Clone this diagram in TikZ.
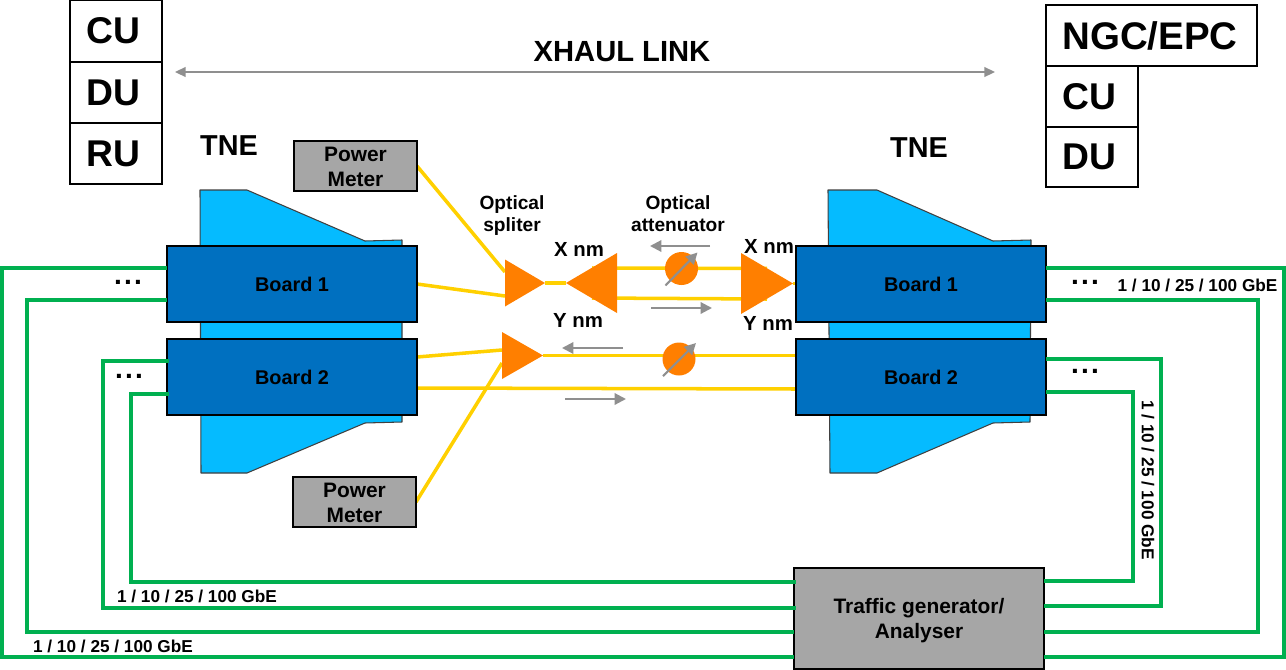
\documentclass[tikz,border=0pt]{standalone}
\usepackage{fontspec}
\setmainfont{Liberation Sans}
\usetikzlibrary{shapes.geometric,arrows.meta}
\definecolor{tneblue}{HTML}{05BBFF}
\definecolor{boardblue}{HTML}{0070C0}
\definecolor{boxgray}{HTML}{A6A6A6}
\definecolor{arrowgray}{HTML}{8F8F8F}
\definecolor{ornge}{HTML}{FF7F00}
\definecolor{fibre}{HTML}{FFD000}
\definecolor{link}{HTML}{00B050}
\newcommand\fz[2]{\fontsize{#1pt}{#2pt}\selectfont\bfseries}
\newcommand\threedots{.\kern1.3pt.\kern1.3pt.}
\pgfdeclarelayer{bg}
\pgfsetlayers{bg,main}
\tikzset{
  x=0.02cm,y=-0.02cm,
  sq/.style 2 args={draw=black,line width=1.6pt,inner sep=0pt,outer sep=0pt,minimum width=#1*0.02cm,minimum height=#2*0.02cm},
  cell/.style 2 args={sq={#1}{#2},fill=white,font=\fz{21.2}{25}},
  board/.style={sq={250}{76},fill=boardblue,font=\fz{11.3}{14}},
  graybox/.style 2 args={sq={#1}{#2},fill=boxgray,align=center,font=\fz{11.9}{14.2}},
  lbl/.style={inner sep=0pt,outer sep=0pt,align=center,font=\fz{10.9}{12.6}},
  nm/.style={inner sep=0pt,outer sep=0pt,font=\fz{11.6}{14}},
  rate/.style={inner sep=0pt,outer sep=0pt,font=\fz{9.8}{12}},
  dots/.style={inner sep=0pt,outer sep=0pt,font=\fz{16}{18}},
  tri/.style 2 args={isosceles triangle,isosceles triangle stretches,fill=ornge,inner sep=0pt,outer sep=0pt,minimum height=#1*0.02cm,minimum width=#2*0.02cm},
  att/.style={circle,fill=ornge,inner sep=0pt,outer sep=0pt,minimum size=33*0.02cm},
  tne/.style={fill=tneblue,draw=black!75,line width=0.6pt,line join=round},
  fib/.style={draw=fibre,line width=2pt},
  lnk/.style={draw=link,line width=1.8pt,line join=miter},
  dir/.style={draw=arrowgray,line width=1.2pt,-{Triangle[length=6.5pt,width=6.5pt]}},
  span/.style={draw=arrowgray,line width=1pt,{Triangle[length=6pt,width=5.5pt]}-{Triangle[length=6pt,width=5.5pt]}}
}
\begin{document}
\begin{tikzpicture}
\useasboundingbox (0,0) rectangle (1286,670);
\foreach \v in {268,272,296,300,350,357,359,361,363,388,389,392,394,581,582,606,608,632,657}
  \coordinate (y\v) at (0,\v);

% top-left stack
\node[cell={92}{62}] (cuL) at (116,31) {CU\kern3.4pt};
\node[cell={92}{61}] (duL) at (116,92.5) {DU\kern3.4pt};
\node[cell={92}{61}] (ruL) at (116,153.5) {RU\kern3.4pt};
% top-right stack
\node[cell={211}{61},font=\fz{21.9}{25}] (ngc) at (1151.5,35.5) {NGC/EPC\kern1.7pt};
\node[cell={92}{61}] (cuR) at (1092,96.5) {CU\kern3.4pt};
\node[cell={92}{60}] (duR) at (1092,157) {DU\kern3.4pt};

\node[inner sep=0pt,font=\fz{16.6}{20}] (xhaul) at (622,52) {XHAUL LINK};
\coordinate (xa) at (175,72);
\coordinate (xb) at (995,72);
\draw[span] (xa) -- (xb);

\node[inner sep=0pt,font=\fz{16.4}{20}] (tneL) at (229,146) {TNE};
\node[inner sep=0pt,font=\fz{16.4}{20}] (tneR) at (919,148) {TNE};

% boards and boxes
\node[board] (b1l) at (292,284) {Board 1};
\node[board] (b2l) at (292,377) {Board 2};
\node[board] (b1r) at (921,284) {Board 1};
\node[board] (b2r) at (921,377) {Board 2};
\node[graybox={123}{50}] (pm1) at (355.5,166) {\rule{0pt}{9.7pt}Power\\Meter};
\node[graybox={123}{50}] (pm2) at (354.5,502) {\rule{0pt}{9.7pt}Power\\Meter};
\node[graybox={250}{101}] (tg) at (919,618.5) {\rule{0pt}{10.8pt}Traffic generator/\\Analyser};

% optical parts
\node[tri={40}{47},anchor=apex] (s1) at (545,283) {};
\node[tri={41}{47},anchor=apex] (s2) at (543,355.5) {};
\node[tri={51}{60},anchor=apex,shape border rotate=180] (t1) at (566,283) {};
\node[tri={52}{61},anchor=apex] (t2) at (793,283.5) {};
\node[att] (a1) at (681.5,268.5) {};
\node[att] (a2) at (679,359) {};

\begin{pgfonlayer}{bg}
  \draw[tne] (200,190) -- (247,190) -- (365,241) -- (402,240) -- (402,422) -- (365,423) -- (247,473) -- (201,473) -- cycle;
  \draw[tne] (828,190) -- (877,190) -- (993,241) -- (1031,240) -- (1030,422) -- (993,423) -- (877,473) -- (830,473) -- cycle;
  \draw[fib] (pm1.east) -- (s1.lower side |- y272);
  \draw[fib] (b1l.east) -- (s1.lower side |- y296);
  \draw[fib] (s1.apex) -- (t1.apex);
  \draw[fib] (592,268) -- (767,268.5);
  \draw[fib] (592,298) -- (767,299);
  \draw[fib] (t2.apex) -- (b1r.west |- t2.apex);
  \draw[fib] (b2l.east |- y357) -- (s2.lower side |- y350);
  \draw[fib] (pm2.east) -- (s2.lower side |- y363);
  \draw[fib] (s2.apex) -- (b2r.west |- s2.apex);
  \draw[fib] (b2l.east |- y388) -- (b2r.west |- y389);
\end{pgfonlayer}

% direction arrows
\draw[dir] (710,246) -- (650,246);
\draw[dir] (651,308) -- (712,308);
\draw[dir] (623,348) -- (562,348);
\draw[dir] (565,399) -- (626,399);
\draw[dir] (a1.center) ++(-16,17) -- ++(32,-33);
\draw[dir] (a2.center) ++(-16,17) -- ++(33,-33);

% green links, left
\draw[lnk] (b1l.west |- y268) -- (2,268) -- (2,657) -- (tg.west |- y657);
\draw[lnk] (b1l.west |- y300) -- (27,300) -- (27,632) -- (tg.west |- y632);
\draw[lnk] ([xshift=0.04cm]b2l.west |- y361) -- (103,361) -- (103,608) -- ([xshift=0.04cm]tg.west |- y608);
\draw[lnk] ([xshift=0.04cm]b2l.west |- y394) -- (131,394) -- (131,582) -- ([xshift=0.04cm]tg.west |- y582);
% green links, right
\draw[lnk] (b2r.east |- y392) -- (1133,392) -- (1133,581) -- (tg.east |- y581);
\draw[lnk] (b2r.east |- y359) -- (1161,359) -- (1161,606) -- (tg.east |- y606);
\draw[lnk] (b1r.east |- y300) -- (1258,300) -- (1258,632) -- (tg.east |- y632);
\draw[lnk] (b1r.east |- y268) -- (1284,268) -- (1284,657) -- (tg.east |- y657);

% labels
\node[lbl] (ls) at (512,215.5) {Optical\\spliter};
\node[lbl] (la) at (678,214) {Optical\\attenuator};
\node[nm] (xl) at (579,249) {X nm};
\node[nm] (yl) at (578,320) {Y nm};
\node[nm] (xr) at (769,246) {X nm};
\node[nm] (yr) at (768,323) {Y nm};
\node[rate] (r1) at (1197.5,285) {1 / 10 / 25 / 100 GbE};
\node[rate,rotate=-90] (r2) at (1148,480) {1 / 10 / 25 / 100 GbE};
\node[rate] (r3) at (197,596) {1 / 10 / 25 / 100 GbE};
\node[rate] (r4) at (113,646) {1 / 10 / 25 / 100 GbE};
\node[dots] (d1) at (128,282) {\threedots};
\node[dots] (d2) at (129,376) {\threedots};
\node[dots] (d3) at (1085,282) {\threedots};
\node[dots] (d4) at (1085,371) {\threedots};
\end{tikzpicture}
\end{document}
